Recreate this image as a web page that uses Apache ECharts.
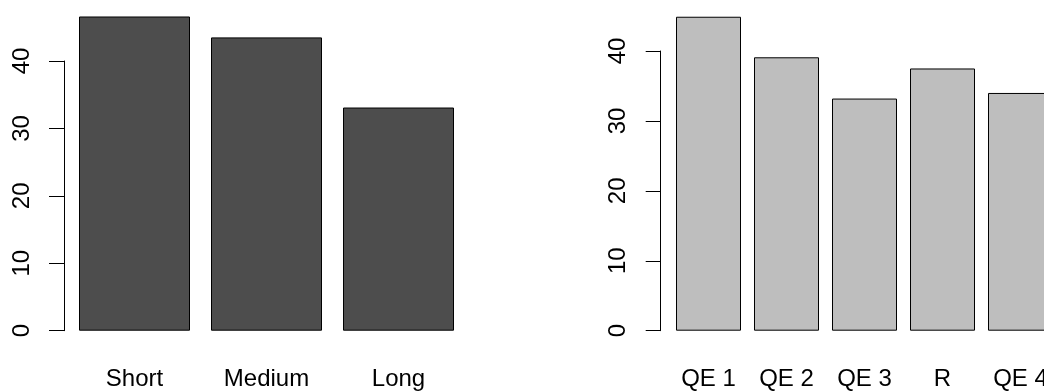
<!DOCTYPE html>
<html>
<head>
<meta charset="utf-8">
<script src="https://cdn.jsdelivr.net/npm/echarts@6/dist/echarts.min.js"></script>
<style>
html,body{margin:0;padding:0;background:#fff;}
#chart{width:1044px;height:391px;}
</style>
</head>
<body>
<div id="chart"></div>
<script>
// Left panel data
const leftCategories = ['Short', 'Medium', 'Long'];
const leftValues = [46.6, 43.5, 33.1];
// Right panel data
const rightCategories = ['QE 1', 'QE 2', 'QE 3', 'R', 'QE 4'];
const rightValues = [44.9, 39.1, 33.2, 37.5, 34.0];
// Y-axis ticks (shared)
const yTicks = [0, 10, 20, 30, 40];

const FONT = 'Liberation Sans, Arial, Helvetica, sans-serif';
const yMin = yTicks[0], yMax = yTicks[yTicks.length - 1], yStep = yTicks[1] - yTicks[0];

function yAxisCfg(gridIndex, offset) {
  return {
    type: 'value', gridIndex: gridIndex, min: yMin, max: yMax, interval: yStep,
    offset: offset,
    axisLine: { show: true, lineStyle: { color: '#000', width: 1 } },
    axisTick: { show: true, length: 15, inside: false, lineStyle: { color: '#000', width: 1 } },
    axisLabel: { show: true, rotate: 90, margin: 30, color: '#000', fontSize: 24, fontFamily: FONT,
                 formatter: v => String(v) },
    splitLine: { show: false }
  };
}
function xAxisCfg(gridIndex, cats) {
  return {
    type: 'category', gridIndex: gridIndex, data: cats, boundaryGap: true,
    axisLine: { show: false }, axisTick: { show: false }, splitLine: { show: false },
    axisLabel: { show: true, interval: 0, margin: 37, color: '#000', fontSize: 24, fontFamily: FONT }
  };
}

const chart = echarts.init(document.getElementById('chart'), null, { renderer: 'canvas' });
chart.setOption({
  backgroundColor: '#fff',
  animation: false,
  grid: [
    { left: 68.5, width: 396, top: 61, bottom: 60.3, containLabel: false, outerBoundsMode: 'none' },
    { left: 669.5, width: 390, top: 51, bottom: 60.3, containLabel: false, outerBoundsMode: 'none' }
  ],
  xAxis: [xAxisCfg(0, leftCategories), xAxisCfg(1, rightCategories)],
  yAxis: [yAxisCfg(0, 4.5), yAxisCfg(1, 8.8)],
  series: [
    { type: 'bar', xAxisIndex: 0, yAxisIndex: 0, data: leftValues, barWidth: 111, clip: false,
      itemStyle: { color: '#4D4D4D', borderColor: '#000', borderWidth: 1 }, emphasis: { disabled: true } },
    { type: 'bar', xAxisIndex: 1, yAxisIndex: 1, data: rightValues, barWidth: 65, clip: false,
      itemStyle: { color: '#BEBEBE', borderColor: '#000', borderWidth: 1 }, emphasis: { disabled: true } }
  ]
});
</script>
</body>
</html>
